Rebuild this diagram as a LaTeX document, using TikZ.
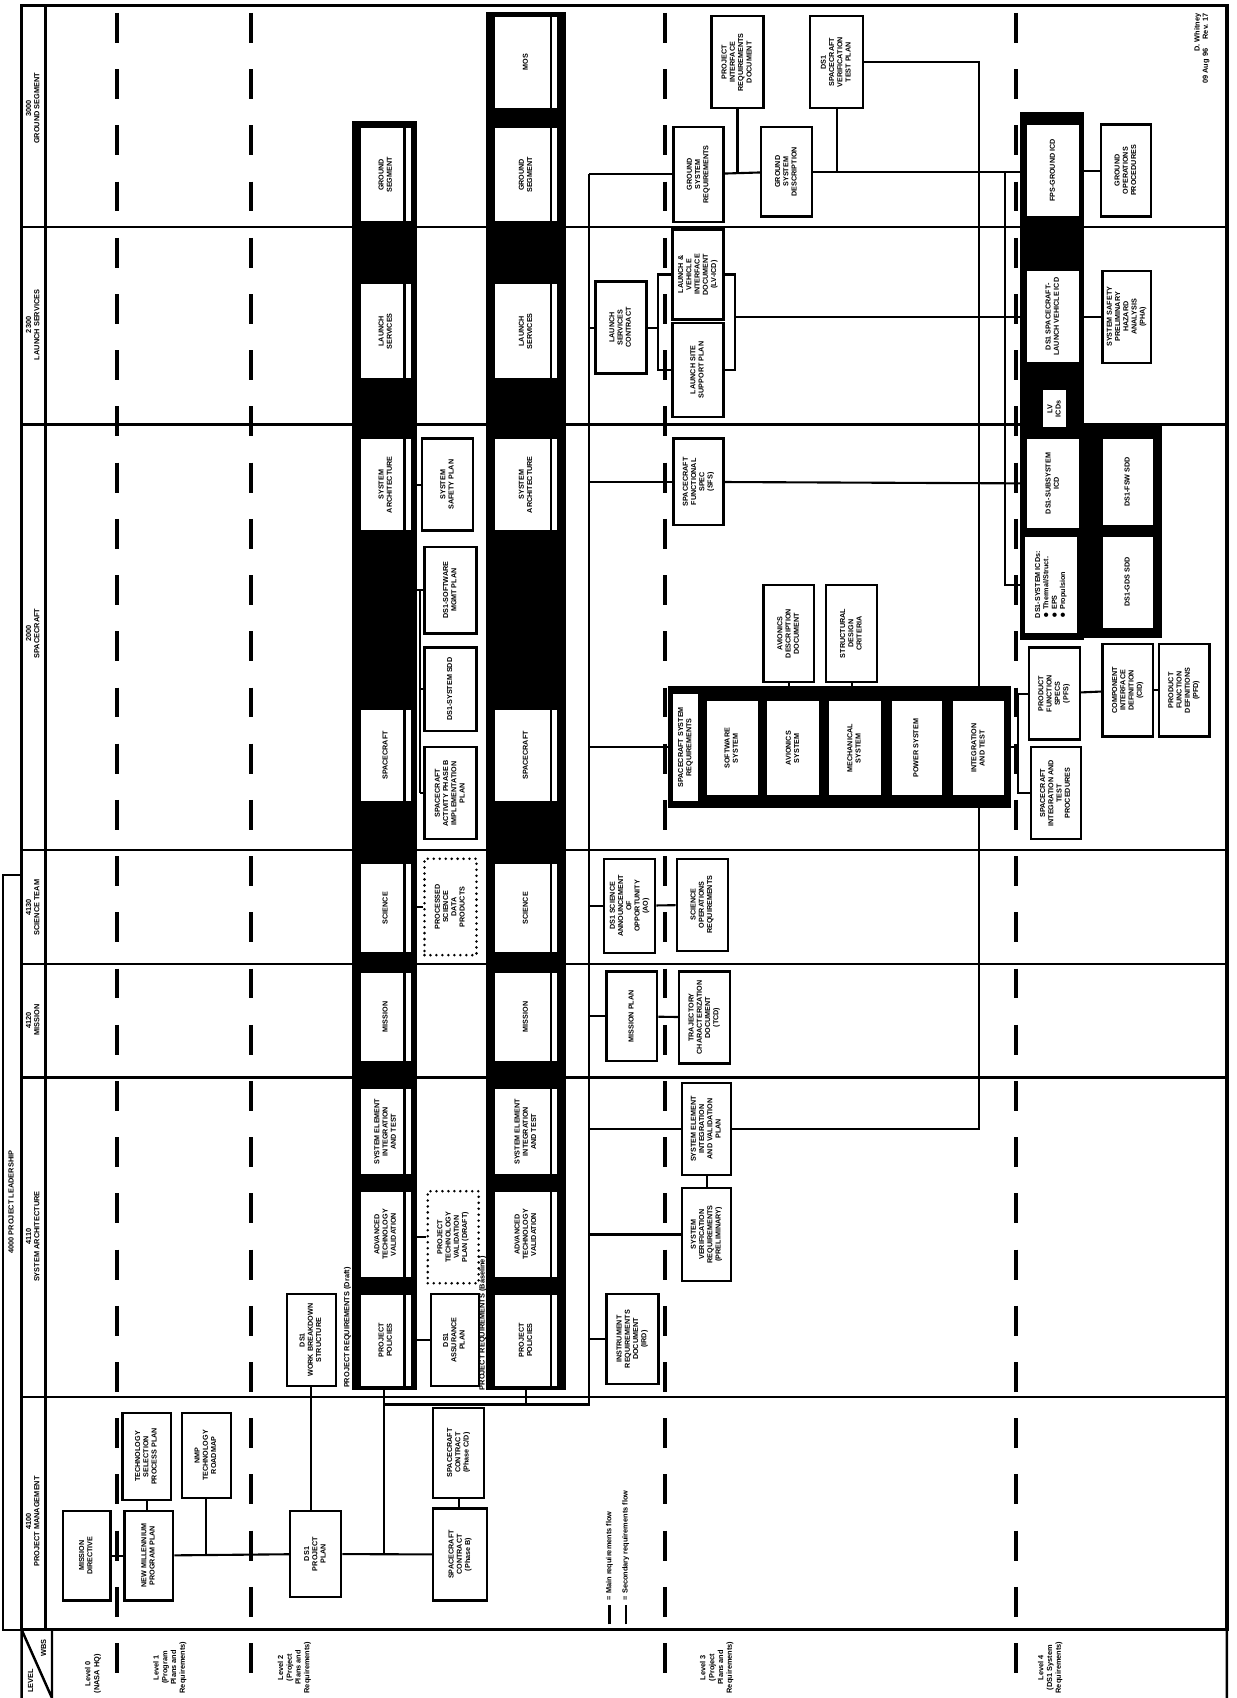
\documentclass[tikz,border=0pt]{standalone}
\usepackage{fontspec}
\setmainfont{Liberation Sans}
\usepackage{graphicx}
\newcommand{\vt}[1]{\rotatebox{90}{\begin{tabular}{@{}c@{}}#1\end{tabular}}}
% box from its two corners: [style]{name}{x1}{y1}{x2}{y2}{text}
\newcommand{\bx}[7][doc]{%
  \pgfmathsetmacro{\bxw}{(#5-#3)*0.02166}%
  \pgfmathsetmacro{\bxh}{(#6-#4)*0.02166}%
  \node[#1, minimum width=\bxw cm, minimum height=\bxh cm] (#2) at ({(#3+#5)/2},{(#4+#6)/2}) {#7};}

\begin{document}
\begin{tikzpicture}[x=0.02166cm, y=-0.02166cm,
  every node/.style={font=\fontsize{4.1}{4.7}\selectfont\bfseries, inner sep=0pt},
  doc/.style={draw, line width=1.3pt, fill=white},
  thin doc/.style={draw, line width=0.6pt, fill=white},
  dotdoc/.style={draw, line width=1.6pt, dash pattern=on 0pt off 3.4pt, line cap=round, fill=white},
  bar/.style={draw, line width=1pt, fill=black},
  cell/.style={draw, line width=0.6pt, fill=white, path picture={\draw[line width=1.3pt] ([xshift=-4pt]path picture bounding box.north east) -- ([xshift=-4pt]path picture bounding box.south east);}},
  hdr/.style={font=\fontsize{4.2}{4.8}\selectfont\bfseries},
  lvltxt/.style={font=\fontsize{4.2}{5}\selectfont\bfseries, anchor=south},
  link/.style={line width=1.2pt},
  rowline/.style={line width=1.2pt},
  lvline/.style={line width=2.2pt, dash pattern=on 17pt off 15pt}]
  \useasboundingbox (0,0) rectangle (1142,1568);
  % frame, WBS rows and level columns
  \draw[line width=1.8pt] (20,5) rectangle (1133,1505);
  \draw[line width=1.4pt] (42,5) -- (42,1505);
  \draw[line width=1.4pt] (20,808) -- (3,808) -- (3,1505) -- (20,1505);
  \draw[line width=1.4pt] (20,1505) -- (20,1568) (48,1505) -- (48,1568) (20,1505) -- (48,1568) (1133,1505) -- (1133,1568);
  \foreach \y in {210,392,785,890,995,1290} \draw[rowline] (20,\y) -- (1133,\y);
  \foreach \x in {108,232,614,938} \draw[lvline] (\x,12) -- (\x,1568);
  % WBS headings
  \node[hdr] (hgs) at (31,100) {\vt{3000\\GROUND SEGMENT}};
  \node[hdr] (hls) at (31,300) {\vt{2300\\LAUNCH SERVICES}};
  \node[hdr] (hsc) at (31,585) {\vt{2000\\SPACECRAFT}};
  \node[hdr] (hst) at (31,838) {\vt{4130\\SCIENCE TEAM}};
  \node[hdr] (hmi) at (31,942) {\vt{4120\\MISSION}};
  \node[hdr] (hsa) at (31,1142) {\vt{4110\\SYSTEM ARCHITECTURE}};
  \node[hdr] (hpm) at (31,1405) {\vt{4100\\PROJECT MANAGEMENT}};
  \node[hdr] (hpl) at (11,1110) {\vt{4000 PROJECT LEADERSHIP}};
  % level headings
  \node[hdr] (lvl) at (29,1552) {\vt{LEVEL}};
  \node[hdr] (wbs) at (41,1522) {\vt{WBS}};
  \node[lvltxt] (l0) at (86,1564) {\vt{Level 0\\(NASA HQ)}};
  \node[lvltxt] (l1) at (157,1564) {\vt{Level 1\\(Program\\Plans and\\Requirements)}};
  \node[lvltxt] (l2) at (272,1564) {\vt{Level 2\\(Project\\Plans and\\Requirements)}};
  \node[lvltxt] (l3) at (662,1564) {\vt{Level 3\\(Project\\Plans and\\Requirements)}};
  \node[lvltxt] (l4) at (970,1564) {\vt{Level 4\\(DS1 System\\Requirements)}};
  \node[hdr, anchor=north] (note) at (1110,12) {\rotatebox{90}{\begin{tabular}{@{}r@{}}D. Whitney\\09 Aug 96 \quad Rev. 17\end{tabular}}};

  % level 0 - 2 plans
  \bx{nhq}{58}{1395}{102}{1478}{\vt{MISSION\\DIRECTIVE}}
  \bx{nmpp}{115}{1395}{160}{1478}{\vt{NEW MILLENNIUM\\PROGRAM PLAN}}
  \bx{nmpsel}{113}{1305}{158}{1385}{\vt{TECHNOLOGY\\SELECTION\\PROCESS PLAN}}
  \bx{nmpdoc}{168}{1305}{213}{1383}{\vt{NMP\\TECHNOLOGY\\ROADMAP}}
  \bx{dsplan}{268}{1395}{315}{1475}{\vt{DS1\\PROJECT\\PLAN}}
  \bx{dswbs}{265}{1195}{310}{1280}{\vt{DS1\\WORK BREAKDOWN\\STRUCTURE}}
  \bx{scfa}{400}{1393}{450}{1478}{\vt{SPACECRAFT\\CONTRACT\\(Phase B)}}
  \bx{scfb}{400}{1300}{447}{1383}{\vt{SPACECRAFT\\CONTRACT\\(Phase C/D)}}

  % two WBS bars
  \bx[bar]{bar1}{326}{113}{384}{1283}{}
  \bx[bar]{bar2}{450}{12}{522}{1283}{}
  \bx[cell]{bmos}{457}{15}{515}{100}{\vt{MOS}}
  \foreach \ya/\yb/\nm/\txt in {118/205/gs/{GROUND\\SEGMENT}, 262/350/ls/{LAUNCH\\SERVICES},
      405/490/sa/{SYSTEM\\ARCHITECTURE}, 655/740/sc/{SPACECRAFT}, 797/880/sci/{SCIENCE},
      898/980/mis/{MISSION}, 1005/1085/sei/{SYSTEM ELEMENT\\INTEGRATION\\AND TEST},
      1100/1180/adv/{ADVANCED\\TECHNOLOGY\\VALIDATION}, 1195/1280/pm/{PROJECT\\POLICIES}} {
    \bx[cell]{a\nm}{333}{\ya}{380}{\yb}{\vt{\txt}}
    \bx[cell]{b\nm}{457}{\ya}{515}{\yb}{\vt{\txt}}
  }
  \node[hdr, anchor=south] (bar1lbl) at (321,1282) {\vt{PROJECT REQUIREMENTS (Draft)}};
  \node[hdr, anchor=south] (bar2lbl) at (446,1284) {\vt{PROJECT REQUIREMENTS (Baseline)}};

  % documents between the bars
  \bx{ssp}{390}{405}{437}{490}{\vt{SYSTEM\\SAFETY PLAN}}
  \bx{smp}{392}{505}{440}{585}{\vt{DS1-SOFTWARE\\MGMT PLAN}}
  \bx{sdd}{392}{598}{440}{675}{\vt{DS1-SYSTEM SDD}}
  \bx{impl}{392}{690}{440}{775}{\vt{SPACECRAFT\\ACTIVITY PHASE B\\IMPLEMENTATION\\PLAN}}
  \bx[dotdoc]{sdp}{392}{793}{440}{882}{\vt{PROCESSED\\SCIENCE\\DATA\\PRODUCTS}}
  \bx[dotdoc]{tvp}{395}{1100}{442}{1185}{\vt{PROJECT\\TECHNOLOGY\\VALIDATION\\PLAN (DRAFT)}}
  \bx{cmp}{398}{1195}{442}{1280}{\vt{DS1\\ASSURANCE\\PLAN}}

  % level 3
  \bx{prd}{657}{15}{705}{100}{\vt{PROJECT\\INTERFACE\\REQUIREMENTS\\DOCUMENT}}
  \bx{ftp}{748}{15}{797}{100}{\vt{DS1\\SPACECRAFT\\VERIFICATION\\TEST PLAN}}
  \bx{gsr}{622}{117}{668}{205}{\vt{GROUND\\SYSTEM\\REQUIREMENTS}}
  \bx{gsd}{703}{117}{750}{200}{\vt{GROUND\\SYSTEM\\DESCRIPTION}}
  \bx{lsc}{550}{260}{597}{345}{\vt{LAUNCH\\SERVICES\\CONTRACT}}
  \bx{lvicd}{621}{212}{668}{295}{\vt{LAUNCH \&\\VEHICLE\\INTERFACE\\DOCUMENT\\(LV-ICD)}}
  \bx{lssp}{621}{298}{668}{385}{\vt{LAUNCH SITE\\SUPPORT PLAN}}
  \bx{sfs}{622}{405}{668}{485}{\vt{SPACECRAFT\\FUNCTIONAL\\SPEC\\(SFS)}}
  \bx{avd}{705}{540}{752}{630}{\vt{AVIONICS\\DESCRIPTION\\DOCUMENT}}
  \bx{sdc}{763}{540}{810}{630}{\vt{STRUCTURAL\\DESIGN\\CRITERIA}}
  \bx[bar, line width=1.6pt]{scbar}{618}{635}{932}{745}{}
  \bx[thin doc]{sctitle}{621}{640}{645}{740}{\vt{SPACECRAFT SYSTEM\\REQUIREMENTS}}
  \foreach \xa/\xb/\nm/\txt in {652/700/sw/{SOFTWARE\\SYSTEM}, 708/757/av/{AVIONICS\\SYSTEM},
      765/814/mech/{MECHANICAL\\SYSTEM}, 823/870/pwr/{POWER SYSTEM}, 880/928/it/{INTEGRATION\\AND TEST}} {
    \bx[thin doc]{\nm}{\xa}{647}{\xb}{735}{\vt{\txt}}
  }
  \bx{sao}{558}{793}{605}{880}{\vt{DS1 SCIENCE\\ANNOUNCEMENT\\OF\\OPPORTUNITY\\(AO)}}
  \bx{sor}{625}{793}{672}{878}{\vt{SCIENCE\\OPERATIONS\\REQUIREMENTS}}
  \bx{mp}{560}{897}{607}{980}{\vt{MISSION PLAN}}
  \bx{tcd}{627}{897}{674}{982}{\vt{TRAJECTORY\\CHARACTERIZATION\\DOCUMENT\\(TCD)}}
  \bx{seitp}{630}{1000}{675}{1085}{\vt{SYSTEM ELEMENT\\INTEGRATION\\AND VALIDATION\\PLAN}}
  \bx{svr}{630}{1097}{675}{1183}{\vt{SYSTEM\\VERIFICATION\\REQUIREMENTS\\(PRELIMINARY)}}
  \bx{ird}{560}{1195}{608}{1278}{\vt{INSTRUMENT\\REQUIREMENTS\\DOCUMENT\\(IRD)}}

  % level 4
  \bx[bar, line width=1.6pt]{l4bar}{943}{105}{1000}{590}{}
  \bx[bar, line width=1.6pt]{l4box}{1002}{395}{1072}{588}{}
  \bx[thin doc]{fps}{948}{115}{997}{200}{\vt{FPS-GROUND ICD}}
  \bx[thin doc]{lvicd4}{948}{250}{997}{335}{\vt{DS1 SPACECRAFT-\\LAUNCH VEHICLE ICD}}
  \bx[thin doc]{lvtag}{963}{360}{985}{395}{\vt{LV\\ICDs}}
  \bx[thin doc]{sicd}{948}{405}{997}{488}{\vt{DS1-SUBSYSTEM\\ICD}}
  \bx[thin doc]{pfs4}{946}{495}{995}{585}{\rotatebox{90}{\begin{tabular}{@{}l@{}}DS1-SYSTEM ICDs:\\$\bullet$ Thermal/Struct.\\$\bullet$ EPS\\$\bullet$ Propulsion\end{tabular}}}
  \bx[thin doc]{fsw}{1018}{405}{1065}{485}{\vt{DS1-FSW SDD}}
  \bx[thin doc]{gds}{1018}{495}{1065}{580}{\vt{DS1-GDS SDD}}
  \bx{gop}{1017}{115}{1063}{200}{\vt{GROUND\\OPERATIONS\\PROCEDURES}}
  \bx{sspp}{1018}{250}{1063}{335}{\vt{SYSTEM SAFETY\\PRELIMINARY\\HAZARD\\ANALYSIS\\(PHA)}}
  \bx{pfs}{950}{598}{997}{683}{\vt{PRODUCT\\FUNCTION\\SPECS\\(PFS)}}
  \bx{sitp}{952}{690}{998}{775}{\vt{SPACECRAFT\\INTEGRATION AND\\TEST\\PROCEDURES}}
  \bx{cid}{1018}{595}{1065}{680}{\vt{COMPONENT\\INTERFACE\\DEFINITION\\(CID)}}
  \bx{pfd}{1070}{595}{1117}{680}{\vt{PRODUCT\\FUNCTION\\DEFINITIONS\\(PFD)}}

  % legend
  \draw[line width=1.6pt] (563,1500) -- (563,1482);
  \draw[line width=0.8pt] (578,1500) -- (578,1482);
  \node[hdr, anchor=south] (leg1) at (563,1478) {\vt{= Main requirements flow}};
  \node[hdr, anchor=south] (leg2) at (578,1478) {\vt{= Secondary requirements flow}};

  % connectors
  \coordinate (trk) at (544,0);
  \coordinate (jb) at (355,1297);
  \coordinate (bbk) at (388,0);
  \coordinate (lbk1) at (608,0);
  \coordinate (lbk2) at (679,0);
  \coordinate (l4bk) at (928,0);
  \coordinate (scbk) at (940,0);
  \draw[link] (nhq) -- (nmpp);
  \draw[link] (nmpsel.south) -- (nmpsel.south |- nmpp.north);
  \draw[link] (nmpp) -- (dsplan);
  \draw[link] (nmpdoc.south) -- (nmpdoc.south |- nmpp);
  \draw[link] (dswbs.south) -- (dswbs.south |- dsplan.north);
  \draw[link] (dsplan) -- (scfa);
  \draw[link] (scfb.south) -- (scfb.south |- scfa.north);
  \draw[link] (bar1.south) -- (jb) -- (jb |- scfa);
  \draw[link] (bar2.south) -- (bar2.south |- jb);
  \draw[link] (jb) -- (trk |- jb) -- (trk |- gsr);
  \draw[link] (ssp.west) -- (bar1.east |- ssp.west);
  \draw[link] (smp.west) -- (bar1.east |- smp.west);
  \draw[link] (bbk |- smp.west) -- (bbk |- impl.west);
  \foreach \n in {sdd,impl} \draw[link] (\n.west) -- (bbk |- \n.west);
  \foreach \n in {sdp,tvp,cmp} \draw[link] (\n.west) -- (bar1.east |- \n.west);
  \foreach \n in {gsr,lsc,sfs,scbar,sao,mp,seitp,svr,ird} \draw[link] (\n.west) -- (trk |- \n.west);
  \draw[link] (gsr) -- (gsd);
  \draw[link] (gsd.east) -- (fps.west |- gsd.east);
  \draw[link] (prd.south) -- (prd.south |- gsd);
  \draw[link] (ftp.south) -- (ftp.south |- gsd);
  \draw[link] (ftp.east) -| (it.north);
  \draw[link] (it.south) |- (seitp.east);
  \draw[link] (lsc.east) -- (lbk1 |- lsc.east);
  \draw[link] (lvicd.west) -| (lbk1 |- lssp.west) -- (lssp.west);
  \draw[link] (lvicd.east) -| (lbk2 |- lssp.east) -- (lssp.east);
  \draw[link] (lbk2 |- lvicd4) -- (lvicd4);
  \draw[link] (sfs) -- (sicd);
  \draw[link] (l4bk |- gsd.east) -- (l4bk |- pfs4) -- (pfs4.west);
  \draw[link] (fps.east |- gop) -- (gop);
  \draw[link] (lvicd4.east |- sspp) -- (sspp);
  \draw[link] (avd.south) -- (avd.south |- scbar.north);
  \draw[link] (sdc.south) -- (sdc.south |- scbar.north);
  \draw[link] (scbar.east) -- (scbk |- scbar.east);
  \draw[link] (pfs.west) -| (scbk |- sitp.west) -- (sitp.west);
  \draw[link] (pfs) -- (cid);
  \draw[link] (cid) -- (pfd);
  \draw[link] (sao) -- (sor);
  \draw[link] (mp) -- (tcd);
  \draw[link] (seitp) -- (svr);
\end{tikzpicture}
\end{document}
